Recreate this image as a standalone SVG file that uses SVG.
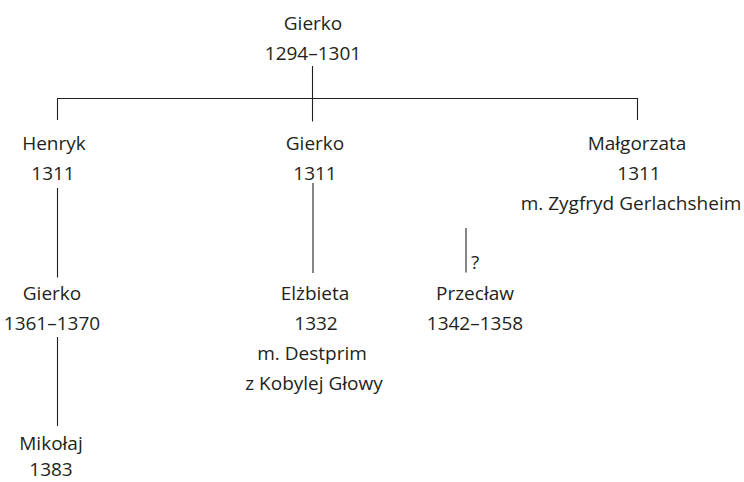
<svg xmlns="http://www.w3.org/2000/svg" width="744" height="482" viewBox="0 0 744 482">
<style>
text{font-family:"Open Sans",Lato,"Liberation Sans",sans-serif;font-size:19px;fill:#231f20;text-anchor:middle}
.c line{stroke:#231f20;stroke-width:1.1}
</style>
<rect width="744" height="482" fill="#fff"/>
<g class="c" id="connectors">
<line x1="312.5" y1="66" x2="312.5" y2="121.5"/>
<line x1="57" y1="98.5" x2="638" y2="98.5"/>
<line x1="57.5" y1="98.5" x2="57.5" y2="120"/>
<line x1="637.5" y1="98.5" x2="637.5" y2="120"/>
<line x1="57.5" y1="188" x2="57.5" y2="277.5"/>
<line x1="313" y1="183" x2="313" y2="273"/>
<line x1="466" y1="228" x2="466" y2="272.5"/>
<line x1="57.5" y1="337" x2="57.5" y2="426"/>
</g>
<text x="475" y="269">?</text>
<g id="gierko1"><text x="313" y="30">Gierko</text><text x="313" y="60">1294–1301</text></g>
<g id="henryk"><text x="54" y="150">Henryk</text><text x="53" y="180">1311</text></g>
<g id="gierko2"><text x="315" y="150">Gierko</text><text x="315" y="180">1311</text></g>
<g id="malgorzata"><text x="637" y="150">Małgorzata</text><text x="639" y="180">1311</text><text x="631" y="210">m. Zygfryd Gerlachsheim</text></g>
<g id="gierko3"><text x="52" y="300">Gierko</text><text x="52" y="330">1361–1370</text></g>
<g id="elzbieta"><text x="315" y="300">Elżbieta</text><text x="316" y="330">1332</text><text x="312" y="360">m. Destprim</text><text x="314" y="390">z Kobylej Głowy</text></g>
<g id="przeclaw"><text x="475" y="300">Przecław</text><text x="475" y="330">1342–1358</text></g>
<g id="mikolaj"><text x="51" y="450">Mikołaj</text><text x="51" y="476">1383</text></g>
</svg>
